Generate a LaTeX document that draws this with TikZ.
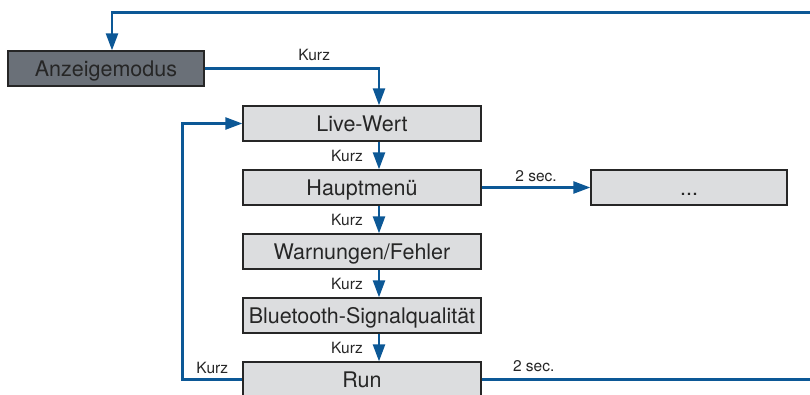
\documentclass[tikz,border=0pt]{standalone}
\usepackage{fontspec}
\setmainfont{TeX Gyre Heros}
\usetikzlibrary{arrows.meta}
\definecolor{bleu}{RGB}{12,88,150}
\definecolor{grisclair}{RGB}{220,221,223}
\definecolor{grisfonce}{RGB}{106,112,120}
\begin{document}
\begin{tikzpicture}[x=1pt,y=-1pt]
			\tikzstyle{fleche}=[-{Triangle[length=17pt,width=12pt]},bleu,line width=2.4pt]
			\tikzstyle{boite}=[draw=black!85,line width=1.3pt,fill=grisclair,minimum height=35pt,inner sep=0pt,text height=17pt,text depth=1pt,font=\fontsize{21.5}{25}\selectfont,text=black!85]
			\tikzstyle{large}=[boite,minimum width=238pt]
			\tikzstyle{court}=[boite,minimum width=196pt]
			\tikzstyle{etiquette}=[inner sep=0pt,font=\fontsize{15.5}{18}\selectfont,text=black!85]
			
			\useasboundingbox (0,0) rectangle (810,394);
			
			\def\Colonne{362}
			\def\EcartNiveaux{64}
			\def\NiveauA{123.5}
			
			\node[court,fill=grisfonce] (Mode) at (106,68.5) {Anzeigemodus};
			\node[large] (Live) at (\Colonne,{\NiveauA+(0)*\EcartNiveaux}) {Live-Wert};
			\node[large] (Menu) at (\Colonne,{\NiveauA+(1)*\EcartNiveaux}) {Hauptmenü};
			\node[large] (Warn) at (\Colonne,{\NiveauA+(2)*\EcartNiveaux}) {Warnungen/Fehler};
			\node[large] (BT) at (\Colonne,{\NiveauA+(3)*\EcartNiveaux}) {Bluetooth-Signalqualität};
			\node[large] (Run) at (\Colonne,{\NiveauA+(4)*\EcartNiveaux}) {Run};
			\node[court] (Suite) at (689,{\NiveauA+(1)*\EcartNiveaux}) {...};
			
			\coordinate (coinB) at (813,379.5);
			\coordinate (coinH) at (813,12.5);
			
			\draw[fleche] (Mode.east) -| ([xshift=17pt]Live.north) node[etiquette,pos=0.314,above=7pt] {Kurz};
			\draw[fleche] ([xshift=17pt]Live.south) -- ([xshift=17pt]Menu.north) node[etiquette,midway,left=15pt] {Kurz};
			\draw[fleche] ([xshift=17pt]Menu.south) -- ([xshift=17pt]Warn.north) node[etiquette,midway,left=15pt] {Kurz};
			\draw[fleche] ([xshift=17pt]Warn.south) -- ([xshift=17pt]BT.north) node[etiquette,midway,left=15pt] {Kurz};
			\draw[fleche] ([xshift=17pt]BT.south) -- ([xshift=17pt]Run.north) node[etiquette,midway,left=15pt] {Kurz};
			\draw[fleche] (Run.west) -- ([xshift=-60pt]Run.west) node[etiquette,midway,above=5pt] {Kurz} |- (Live.west);
			\draw[fleche] (Menu.east) -- (Suite.west) node[etiquette,midway,above=5pt] {2 sec.};
			\draw[fleche] (Run.east) -- (coinB) node[etiquette,pos=0.157,above=7pt] {2 sec.} -- (coinH) -| ([xshift=6pt]Mode.north);
		\end{tikzpicture}
\end{document}
